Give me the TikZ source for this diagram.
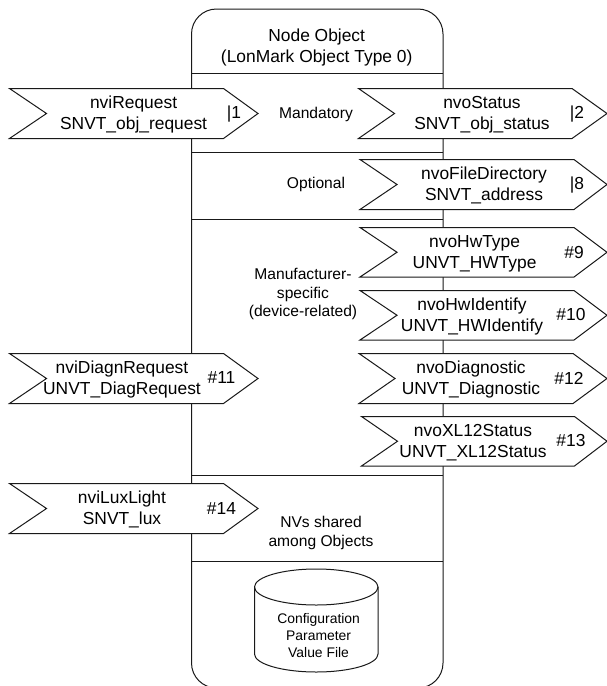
\documentclass[tikz,border=0pt]{standalone}
\usepackage{fontspec}
\setmainfont{Liberation Sans}
\tikzset{
  x=1pt,y=-1pt,
  outline/.style={draw=black!90,line width=1pt,line join=miter},
  sigshape/.style={outline,fill=white},
  big/.style={inner sep=0pt,yshift=-1.5pt,align=center,font=\fontsize{17.4}{21.3}\selectfont},
  mid/.style={inner sep=0pt,yshift=-1pt,align=center,font=\fontsize{15.6}{18.8}\selectfont},
  small/.style={inner sep=0pt,yshift=-1pt,align=center,font=\fontsize{13.9}{17}\selectfont},
}
% #1 left x, #2 notch x, #3 shoulder x, #4 tip x, #5 top y, #6 bottom y
\newcommand{\chev}[6]{\draw[sigshape] (#1,#5) -- (#3,#5) -- (#4,{(#5+#6)/2}) -- (#3,#6) -- (#1,#6) -- (#2,{(#5+#6)/2}) -- cycle;}
\begin{document}
\begin{tikzpicture}
\clip (0,0) rectangle (607,686);
\fill[white] (0,0) rectangle (607,686);
% object body
\draw[outline] (216.5,688) arc[start angle=90,end angle=180,radius=25] -- (191.5,34) arc[start angle=180,end angle=270,radius=25] -- (418,9) arc[start angle=270,end angle=360,radius=25] -- (443,663) arc[start angle=0,end angle=90,radius=25];
\foreach \yy in {73,152,219,475,561} \draw[outline] (191.5,\yy) -- (443,\yy);
% cylinder
\draw[outline,fill=white] (254.5,587) arc[start angle=180,end angle=360,x radius=61.75,y radius=18] -- (378,654) arc[start angle=0,end angle=180,x radius=61.75,y radius=18] -- cycle;
\draw[outline] (254.5,587) arc[start angle=180,end angle=0,x radius=61.75,y radius=18];
% signals
\chev{9.5}{46.5}{223.5}{258}{88.5}{138.5}
\chev{9.5}{46.5}{223.5}{258}{353.5}{403.5}
\chev{9.5}{46.5}{223.5}{258}{483.5}{533.5}
\chev{358.5}{394.5}{572}{607}{88.5}{138.5}
\chev{360}{397}{574}{607}{159.5}{209.5}
\chev{360}{397}{574}{607}{227.5}{277}
\chev{360}{397}{574}{607}{290.5}{340}
\chev{359}{395}{573}{607}{353.5}{403.5}
\chev{361.5}{397.5}{574.5}{607}{416.5}{466}
% texts
\node[big] (title) at (316.7,46) {Node Object\\(LonMark Object Type 0)};
\node[big] (req) at (133.6,113) {nviRequest\\SNVT\_obj\_request};
\node[big] (reqn) at (234,113) {|1};
\node[mid] (mand) at (316,113) {Mandatory};
\node[big] (stat) at (482,113) {nvoStatus\\SNVT\_obj\_status};
\node[big] (statn) at (577,113) {|2};
\node[mid] (opt) at (316,183) {Optional};
\node[big] (file) at (484,184) {nvoFileDirectory\\SNVT\_address};
\node[big] (filen) at (577,184) {|8};
\node[big] (hwt) at (474.6,252) {nvoHwType\\UNVT\_HWType};
\node[big] (hwtn) at (574,251) {\#9};
\node[mid] (manu) at (303,293) {Manufacturer-\\specific\\(device-related)};
\node[big] (hwi) at (472,315) {nvoHwIdentify\\UNVT\_HWIdentify};
\node[big] (hwin) at (571,313) {\#10};
\node[big] (diag) at (122,378) {nviDiagnRequest\\UNVT\_DiagRequest};
\node[big] (diagn) at (221.5,376) {\#11};
\node[big] (dia) at (471,378) {nvoDiagnostic\\UNVT\_Diagnostic};
\node[big] (dian) at (569,377) {\#12};
\node[big] (xl) at (473,441) {nvoXL12Status\\UNVT\_XL12Status};
\node[big] (xln) at (571,439) {\#13};
\node[big] (lux) at (122,508) {nviLuxLight\\SNVT\_lux};
\node[big] (luxn) at (221.5,507) {\#14};
\node[mid] (nvs) at (321,532) {NVs shared\\among Objects};
\node[small] (cfg) at (318.6,635) {Configuration\\Parameter\\Value File};
\end{tikzpicture}
\end{document}
